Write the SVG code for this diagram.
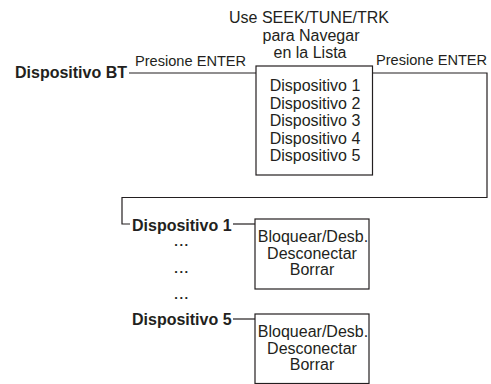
<svg xmlns="http://www.w3.org/2000/svg" width="491" height="384" viewBox="0 0 491 384">
<style>
text{font-family:"Liberation Sans",Arial,sans-serif;font-size:16px;fill:#231f20}
.b{font-weight:bold}
.m{text-anchor:middle}
.d{font-size:13px;letter-spacing:1.5px}
.e{font-size:14.6px}
.box{fill:#fff;stroke:#231f20;stroke-width:1.2}
.ln{fill:none;stroke:#231f20;stroke-width:1.2}
</style>
<rect width="491" height="384" fill="#fff"/>
<g id="connectors">
<polyline class="ln" points="129,73 256,73"/>
<polyline class="ln" points="372.5,73 487,73 487,197.5 122,197.5 122,224 130,224"/>
<polyline class="ln" points="233,224 255,224"/>
<polyline class="ln" points="233,319 255,319"/>
</g>
<g id="instruction">
<text class="m" x="309" y="23">Use SEEK/TUNE/TRK</text>
<text class="m" x="311" y="40.5">para Navegar</text>
<text class="m" x="310" y="58">en la Lista</text>
</g>
<g id="label-enter-left"><text class="e" x="135" y="66">Presione ENTER</text></g>
<g id="label-enter-right"><text class="e" x="376" y="65">Presione ENTER</text></g>
<g id="dispositivo-bt"><text class="b" x="15" y="78">Dispositivo BT</text></g>
<g id="device-list">
<rect class="box" x="256" y="66" width="116.5" height="109"/>
<text class="m" x="315" y="91">Dispositivo 1</text>
<text class="m" x="315" y="108.5">Dispositivo 2</text>
<text class="m" x="315" y="126">Dispositivo 3</text>
<text class="m" x="315" y="143.5">Dispositivo 4</text>
<text class="m" x="315" y="161">Dispositivo 5</text>
</g>
<g id="dispositivo-1"><text class="b" x="132" y="231">Dispositivo 1</text></g>
<g id="dots">
<text class="b m d" x="182" y="246">...</text>
<text class="b m d" x="182" y="273">...</text>
<text class="b m d" x="182" y="299">...</text>
</g>
<g id="dispositivo-5"><text class="b" x="132" y="325">Dispositivo 5</text></g>
<g id="menu-1">
<rect class="box" x="255" y="219" width="114" height="70"/>
<text class="m" x="313" y="242">Bloquear/Desb.</text>
<text class="m" x="312" y="258.5">Desconectar</text>
<text class="m" x="312" y="275">Borrar</text>
</g>
<g id="menu-5">
<rect class="box" x="255" y="314" width="114" height="69.5"/>
<text class="m" x="313" y="337">Bloquear/Desb.</text>
<text class="m" x="312" y="353.5">Desconectar</text>
<text class="m" x="312" y="370">Borrar</text>
</g>
</svg>
